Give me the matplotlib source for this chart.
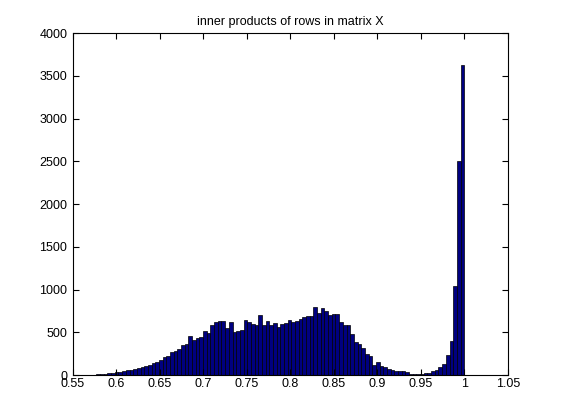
import matplotlib
matplotlib.use("Agg")
import matplotlib.pyplot as plt
import numpy as np

# histogram: 100 bins between the data min and max
bin_lo = 0.577
bin_hi = 1.0
counts = [
    8, 12, 18, 25, 28, 30, 35, 48, 55, 65,
    75, 85, 98, 102, 115, 138, 150, 172, 210, 222,
    270, 285, 300, 355, 365, 460, 410, 435, 440, 520,
    495, 580, 620, 630, 635, 555, 620, 505, 520, 525,
    640, 620, 595, 585, 700, 585, 630, 585, 610, 565,
    595, 605, 640, 620, 635, 655, 675, 690, 690, 800,
    730, 780, 750, 705, 715, 715, 625, 590, 585, 480,
    385, 360, 313, 250, 223, 121, 150, 108, 90, 70,
    60, 50, 45, 45, 35, 15, 12, 10, 15, 20,
    25, 45, 65, 90, 130, 240, 395, 1045, 2500, 3630,
]
xticks = [0.55, 0.6, 0.65, 0.7, 0.75, 0.8, 0.85, 0.9, 0.95, 1, 1.05]
xtick_labels = ["0.55", "0.6", "0.65", "0.7", "0.75", "0.8", "0.85", "0.9", "0.95", "1", "1.05"]
yticks = [0, 500, 1000, 1500, 2000, 2500, 3000, 3500, 4000]

plt.rcParams.update({
    "font.family": ["Liberation Sans", "DejaVu Sans"],
    "font.size": 9,
})

edges = np.linspace(bin_lo, bin_hi, len(counts) + 1)
width = edges[1] - edges[0]

fig = plt.figure(figsize=(5.61, 4.2), dpi=100)
ax = fig.add_axes([0.13, 0.107, 0.775, 0.814])

ax.bar(edges[:-1], counts, width=width, align="edge",
       color="#000080", edgecolor="black", linewidth=0.5)

ax.set_xlim(0.55, 1.05)
ax.set_ylim(0, 4000)
ax.set_xticks(xticks)
ax.set_xticklabels(xtick_labels)
ax.set_yticks(yticks)
ax.tick_params(direction="in", top=True, right=True, length=4, width=0.8)
ax.tick_params(axis="x", pad=2)
ax.tick_params(axis="y", pad=4)
for s in ax.spines.values():
    s.set_linewidth(0.8)
ax.set_title("inner products of rows in matrix X", fontsize=9, pad=6)

fig.savefig("out.png", dpi=100)
